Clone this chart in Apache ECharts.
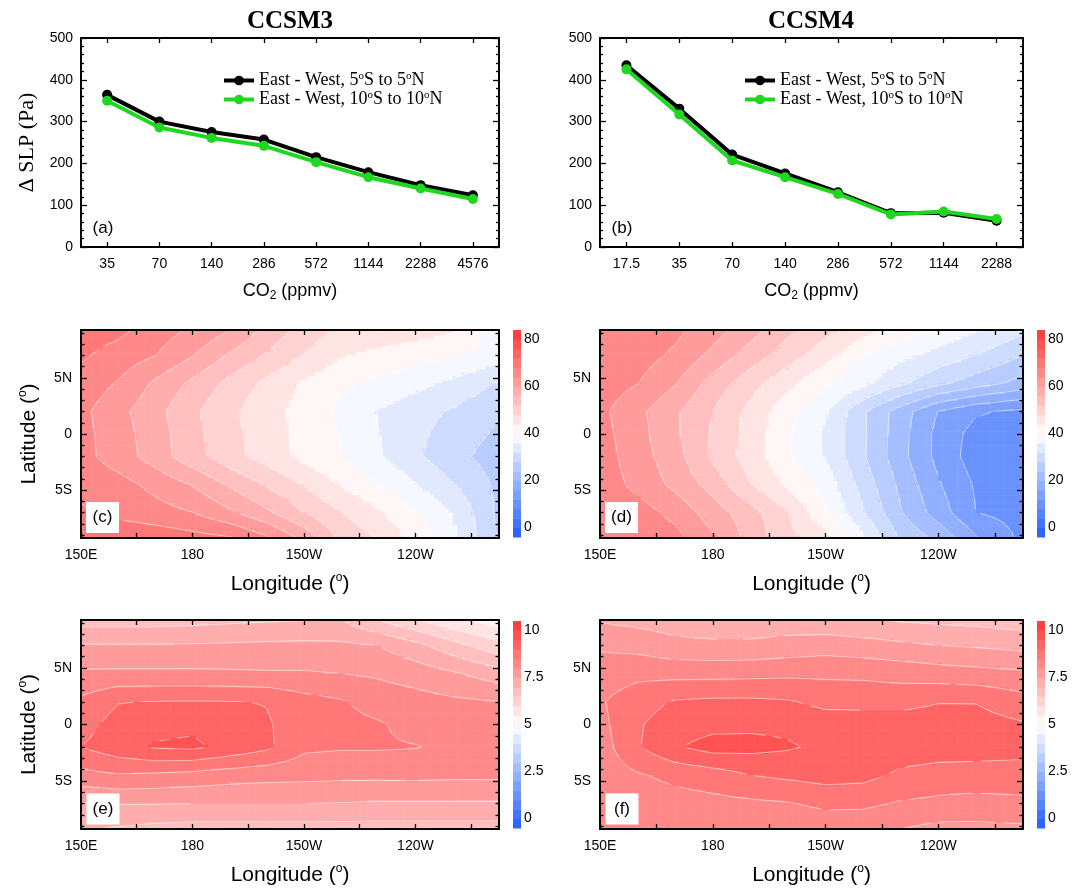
<!DOCTYPE html>
<html>
<head>
<meta charset="utf-8">
<script src="https://cdn.jsdelivr.net/npm/echarts@6/dist/echarts.min.js"></script>
<style>
  html, body { margin: 0; padding: 0; background: #fff; }
  #main { width: 1074px; height: 888px; }
</style>
</head>
<body>
<div id="main"></div>
<script>
// ---- line panels (a) CCSM3, (b) CCSM4 ----
const co2Ccsm3 = ['35', '70', '140', '286', '572', '1144', '2288', '4576']
const co2Ccsm4 = ['17.5', '35', '70', '140', '286', '572', '1144', '2288']
const slp5Ccsm3 = [364, 300, 275, 257, 215, 179, 148, 124]
const slp10Ccsm3 = [350, 286, 261, 242, 203, 167, 140, 115]
const slp5Ccsm4 = [435, 331, 221, 176, 131, 81, 82, 63]
const slp10Ccsm4 = [425, 317, 207, 167, 127, 78, 85, 67]

// ---- contour panels: grid points (lon east, lat north) ----
const LON = [150, 160, 170, 180, 190, 200, 210, 220, 230, 240, 250, 262.5]
const LAT = [9.25, 7, 4.5, 2, 0, -2, -4.5, -7, -9.25]

// (c) CCSM3, rows follow LAT
const fieldC = [
  [70, 69, 66.2, 63.3, 60.2, 54.8, 50.5, 47, 46.5, 46, 44.5, 38.5],
  [68.6, 66.4, 64.1, 60.2, 55.5, 51.6, 47.7, 44.4, 43, 41.7, 40.5, 38],
  [66.5, 63.7, 59.3, 55.1, 50.8, 47, 43.5, 40.8, 39.2, 37.2, 35.1, 31.5],
  [65, 61.3, 57.3, 52.8, 48.8, 45.6, 42.5, 39.2, 35.8, 33.7, 31.5, 28.5],
  [65.3, 61.8, 57.9, 53.3, 49.3, 45.9, 42.8, 39.7, 36.1, 33, 30.3, 27.3],
  [65.4, 62, 58.2, 53.5, 49.6, 46.1, 42.9, 40, 36.5, 32.7, 29.3, 26],
  [67, 65.6, 62.8, 59.8, 55.5, 51.6, 47.6, 43.7, 40.1, 36.2, 32.3, 27],
  [68.5, 67, 65.6, 64.1, 60.8, 56.8, 52, 48.1, 44.5, 40.2, 35.8, 27],
  [71, 71, 70.5, 69.5, 68.5, 64.8, 58.9, 51, 47.7, 42.6, 37.1, 27.5]
]
// (d) CCSM4
const fieldD = [
  [66.5, 66, 65, 61.7, 57.7, 52.9, 49.2, 45.5, 42.2, 39.2, 36.4, 33],
  [66.5, 65.8, 63.3, 59, 54.2, 50, 45.6, 40.3, 37.2, 34.5, 32, 28],
  [66, 64.1, 60.3, 54.3, 49.6, 45, 40.6, 37, 32.7, 28.9, 25.8, 22.5],
  [65, 61.1, 56.6, 52, 46.8, 41.4, 36.5, 28.5, 22, 15.8, 12.5, 11],
  [65.5, 61.5, 56.7, 51.5, 46.5, 40.6, 35.4, 28.7, 21.5, 14.8, 10.5, 10.5],
  [66, 61.8, 57.7, 51.1, 46.2, 40.4, 35.6, 28.5, 21.3, 14.8, 10, 9],
  [66.5, 62.8, 59, 54.5, 48.2, 43.3, 38.4, 30.3, 23, 16.4, 11.5, 10.5],
  [67, 66, 62.8, 58, 53.7, 48.2, 40.6, 32.4, 24.3, 18.1, 12, 10.5],
  [67, 66.5, 65.4, 60.6, 54.6, 49.2, 45.2, 36.6, 27.3, 23, 16.4, 11]
]
// (e) CCSM3
const fieldE = [
  [6.8, 6.8, 6.8, 6.85, 6.9, 6.95, 6.98, 7.0, 6.5, 6.05, 5.6, 5.25],
  [7.54, 7.54, 7.54, 7.55, 7.57, 7.6, 7.62, 7.6, 7.5, 7.16, 6.7, 6.15],
  [8.09, 8.1, 8.1, 8.1, 8.08, 8.05, 8.05, 8.0, 7.93, 7.78, 7.57, 7.24],
  [8.6, 8.98, 9.02, 9.03, 9.02, 8.98, 8.7, 8.55, 8.3, 8.2, 8.1, 8.02],
  [8.8, 9.2, 9.35, 9.4, 9.25, 9.05, 8.75, 8.65, 8.55, 8.35, 8.3, 8.25],
  [9.0, 9.3, 9.55, 9.6, 9.35, 9.1, 8.6, 8.55, 8.55, 8.52, 8.4, 8.35],
  [8.34, 8.46, 8.41, 8.33, 8.23, 8.17, 8.15, 8.12, 8.12, 8.13, 8.1, 8.1],
  [7.47, 7.52, 7.52, 7.5, 7.5, 7.5, 7.5, 7.48, 7.45, 7.45, 7.45, 7.45],
  [7.05, 6.95, 6.85, 6.8, 6.8, 6.8, 6.8, 6.8, 6.8, 6.8, 6.8, 6.8]
]
// (f) CCSM4
const fieldF = [
  [7.45, 7.35, 7.25, 7.2, 7.2, 7.2, 7.15, 7.05, 6.95, 6.9, 6.85, 6.75],
  [7.93, 7.84, 7.65, 7.6, 7.6, 7.7, 7.77, 7.7, 7.6, 7.5, 7.45, 7.35],
  [8.24, 8.37, 8.35, 8.35, 8.37, 8.4, 8.41, 8.39, 8.32, 8.24, 8.17, 8.1],
  [8.45, 8.8, 9.05, 9.1, 9.1, 9.05, 8.85, 8.85, 8.85, 8.98, 8.98, 8.7],
  [8.35, 8.95, 9.25, 9.35, 9.4, 9.4, 9.3, 9.25, 9.25, 9.25, 9.2, 9.05],
  [8.25, 8.95, 9.45, 9.7, 9.65, 9.55, 9.4, 9.35, 9.3, 9.3, 9.25, 9.2],
  [8.2, 8.45, 8.62, 8.76, 9.0, 9.1, 9.2, 9.15, 8.9, 8.75, 8.75, 8.75],
  [8.2, 8.25, 8.3, 8.35, 8.4, 8.47, 8.6, 8.6, 8.45, 8.4, 8.35, 8.4],
  [8.1, 8.1, 8.1, 8.1, 8.1, 8.15, 8.2, 8.15, 8.0, 7.85, 7.85, 7.9]
]

// contour levels (colour bar bands)
const levelsUpper = [-4, 0, 4, 8, 12, 16, 20, 24, 28, 32, 36, 40, 44, 48, 52, 56, 60, 64, 68, 72, 76, 80, 84]
const levelsLower = [-0.5, 0, 0.5, 1, 1.5, 2, 2.5, 3, 3.5, 4, 4.5, 5, 5.5, 6, 6.5, 7, 7.5, 8, 8.5, 9, 9.5, 10, 10.5]
const cbarUpperTicks = [0, 20, 40, 60, 80]
const cbarLowerTicks = [0, 2.5, 5, 7.5, 10]

// tick positions
const lonTicks = [150, 165, 180, 195, 210, 225, 240, 255]
const lonLabels = [150, 180, 210, 240]
const latMajor = [-5, 0, 5]
const latMinor = [-9, -8, -7, -6, -4, -3, -2, -1, 1, 2, 3, 4, 6, 7, 8, 9]

const SANS = 'Liberation Sans'
const SERIF = 'Liberation Serif'
const GREEN = '#1fd71f'

// blue - white - red, 22 bands
function bandColor(k) {
  if (k >= 11) {
    const f = (k - 10.5) / 11
    const g = Math.round(255 - f * 200)
    return 'rgb(255,' + g + ',' + g + ')'
  }
  const f = (10.5 - k) / 11
  return 'rgb(' + Math.round(255 - f * 220) + ',' + Math.round(255 - f * 160) + ',255)'
}

function bandIndex(v, levels) {
  const step = levels[1] - levels[0]
  let k = Math.floor((v - levels[0]) / step)
  return Math.max(0, Math.min(levels.length - 2, k))
}

// marching squares inside one sub cell, white contour lines
function addContours(children, x0, x1, y0, y1, q, levels) {
  for (let m = 1; m < levels.length - 1; m++) {
    const L = levels[m]
    const pts = []
    if ((q[0] - L) * (q[1] - L) < 0) {
      const t = (L - q[0]) / (q[1] - q[0])
      pts.push([x0 + (x1 - x0) * t, y0])
    }
    if ((q[1] - L) * (q[2] - L) < 0) {
      const t = (L - q[1]) / (q[2] - q[1])
      pts.push([x1, y0 + (y1 - y0) * t])
    }
    if ((q[2] - L) * (q[3] - L) < 0) {
      const t = (L - q[2]) / (q[3] - q[2])
      pts.push([x1 + (x0 - x1) * t, y1])
    }
    if ((q[3] - L) * (q[0] - L) < 0) {
      const t = (L - q[3]) / (q[0] - q[3])
      pts.push([x0, y1 + (y0 - y1) * t])
    }
    for (let p = 0; p + 1 < pts.length; p += 2) {
      children.push({
        type: 'line',
        shape: { x1: pts[p][0], y1: pts[p][1], x2: pts[p + 1][0], y2: pts[p + 1][1] },
        style: { stroke: 'rgba(255,255,255,0.7)', lineWidth: 0.8 }
      })
    }
  }
}

// filled contour look: each grid cell is split into small pieces
function fieldRenderer(field, levels) {
  return function (params, api) {
    const i = api.value(2)
    const j = api.value(3)
    const NX = 10
    const NY = 8
    const v00 = field[j][i]
    const v01 = field[j][i + 1]
    const v10 = field[j + 1][i]
    const v11 = field[j + 1][i + 1]
    const xs = []
    const ys = []
    const vals = []
    for (let b = 0; b <= NX; b++) {
      xs.push(api.coord([LON[i] + ((LON[i + 1] - LON[i]) * b) / NX, LAT[j]])[0])
    }
    for (let a = 0; a <= NY; a++) {
      ys.push(api.coord([LON[i], LAT[j] + ((LAT[j + 1] - LAT[j]) * a) / NY])[1])
    }
    for (let a = 0; a <= NY; a++) {
      const t = a / NY
      const row = []
      for (let b = 0; b <= NX; b++) {
        const s = b / NX
        row.push((1 - t) * ((1 - s) * v00 + s * v01) + t * ((1 - s) * v10 + s * v11))
      }
      vals.push(row)
    }
    const children = []
    for (let a = 0; a < NY; a++) {
      for (let b = 0; b < NX; b++) {
        const v = (vals[a][b] + vals[a][b + 1] + vals[a + 1][b] + vals[a + 1][b + 1]) / 4
        children.push({
          type: 'rect',
          shape: { x: xs[b], y: ys[a], width: xs[b + 1] - xs[b] + 0.6, height: ys[a + 1] - ys[a] + 0.6 },
          style: { fill: bandColor(bandIndex(v, levels)) }
        })
      }
    }
    for (let a = 0; a < NY; a++) {
      for (let b = 0; b < NX; b++) {
        addContours(children, xs[b], xs[b + 1], ys[a], ys[a + 1],
          [vals[a][b], vals[a][b + 1], vals[a + 1][b + 1], vals[a + 1][b]], levels)
      }
    }
    return { type: 'group', children: children }
  }
}

function colorbarRenderer(levels) {
  return function (params, api) {
    const k = api.value(1)
    const p0 = api.coord([0, levels[k]])
    const p1 = api.coord([1, levels[k + 1]])
    return {
      type: 'rect',
      shape: { x: p0[0], y: p1[1], width: p1[0] - p0[0], height: p0[1] - p1[1] + 0.5 },
      style: { fill: bandColor(k) }
    }
  }
}

function lonName(v) {
  if (v < 180) return v + 'E'
  if (v === 180) return '180'
  return 360 - v + 'W'
}
function latName(v) {
  if (v > 0) return v + 'N'
  if (v < 0) return -v + 'S'
  return '0'
}

const frame = { show: true, onZero: false, lineStyle: { color: '#000', width: 2 } }
const tickStyle = { color: '#000', width: 1.3 }
const labelStyle = { color: '#000', fontFamily: SANS, fontSize: 14 }
const supRich = {
  sup: { fontSize: 12, lineHeight: 12, verticalAlign: 'top', fontFamily: SANS, color: '#000' },
  sub: { fontSize: 12, lineHeight: 10, verticalAlign: 'bottom', fontFamily: SANS, color: '#000' }
}

const grids = []
const xAxes = []
const yAxes = []
const series = []

// ---------- line panels ----------
function linePanel(box, cats, s5, s10, yName) {
  const g = grids.length
  grids.push(Object.assign({ containLabel: false }, box))
  const xi = xAxes.length
  xAxes.push({
    type: 'category', gridIndex: g, data: cats, position: 'bottom', z: 10,
    axisLine: frame,
    axisTick: { show: true, inside: true, alignWithLabel: true, length: 5, lineStyle: tickStyle },
    axisLabel: Object.assign({ margin: 10, interval: 0 }, labelStyle),
    name: 'CO{sub|2} (ppmv)', nameLocation: 'middle', nameGap: 33,
    nameTextStyle: { color: '#000', fontFamily: SANS, fontSize: 18, lineHeight: 22, rich: supRich }
  })
  xAxes.push({
    type: 'category', gridIndex: g, data: cats, position: 'top', z: 10,
    axisLine: frame,
    axisTick: { show: true, inside: true, alignWithLabel: true, length: 5, lineStyle: tickStyle },
    axisLabel: { show: false }
  })
  const yi = yAxes.length
  yAxes.push({
    type: 'value', gridIndex: g, min: 0, max: 500, interval: 100, position: 'left', z: 10,
    axisLine: frame, splitLine: { show: false },
    axisTick: { show: true, inside: true, length: 6, lineStyle: tickStyle },
    minorTick: { show: true, splitNumber: 5, length: 3, lineStyle: tickStyle },
    axisLabel: Object.assign({ margin: 8 }, labelStyle),
    name: yName, nameLocation: 'middle', nameGap: 43,
    nameTextStyle: { color: '#000', fontFamily: SERIF, fontSize: 22 }
  })
  yAxes.push({
    type: 'value', gridIndex: g, min: 0, max: 500, interval: 100, position: 'right', z: 10,
    axisLine: frame, splitLine: { show: false },
    axisTick: { show: true, inside: true, length: 6, lineStyle: tickStyle },
    minorTick: { show: true, splitNumber: 5, length: 3, lineStyle: tickStyle },
    axisLabel: { show: false }
  })
  series.push({
    type: 'line', name: 'East - West, 5S to 5N', xAxisIndex: xi, yAxisIndex: yi, data: s5,
    symbol: 'circle', symbolSize: 10, color: '#000',
    lineStyle: { width: 4, color: '#000' }, itemStyle: { color: '#000' }, z: 3
  })
  series.push({
    type: 'line', name: 'East - West, 10S to 10N', xAxisIndex: xi, yAxisIndex: yi, data: s10,
    symbol: 'circle', symbolSize: 10, color: GREEN,
    lineStyle: { width: 4, color: GREEN }, itemStyle: { color: GREEN }, z: 4
  })
}

// ---------- contour panels ----------
function fieldPanel(box, field, levels, withLatName) {
  const g = grids.length
  grids.push(Object.assign({ containLabel: false }, box))
  const common = { type: 'value', gridIndex: g, min: 150, max: 262.5, splitLine: { show: false }, z: 10 }
  const xi = xAxes.length
  xAxes.push(Object.assign({}, common, {
    position: 'bottom', axisLine: frame,
    axisTick: { show: true, inside: true, length: 5, customValues: lonTicks, lineStyle: tickStyle },
    axisLabel: Object.assign({ margin: 10, customValues: lonLabels, formatter: lonName }, labelStyle),
    name: 'Longitude ({sup|o})', nameLocation: 'middle', nameGap: 34,
    nameTextStyle: { color: '#000', fontFamily: SANS, fontSize: 21, lineHeight: 24, rich: supRich }
  }))
  xAxes.push(Object.assign({}, common, {
    position: 'top', axisLine: frame,
    axisTick: { show: true, inside: true, length: 5, customValues: lonTicks, lineStyle: tickStyle },
    axisLabel: { show: false }
  }))
  const yc = { type: 'value', gridIndex: g, min: -9.25, max: 9.25, splitLine: { show: false }, z: 10 }
  const yi = yAxes.length
  yAxes.push(Object.assign({}, yc, {
    position: 'left', axisLine: frame,
    axisTick: { show: true, inside: true, length: 6, customValues: latMajor, lineStyle: tickStyle },
    axisLabel: Object.assign({ margin: 9, customValues: latMajor, formatter: latName }, labelStyle),
    name: withLatName ? 'Latitude ({sup|o})' : '', nameLocation: 'middle', nameGap: 40,
    nameTextStyle: { color: '#000', fontFamily: SANS, fontSize: 21, lineHeight: 24, rich: supRich }
  }))
  yAxes.push(Object.assign({}, yc, {
    position: 'left', axisLine: { show: false, onZero: false },
    axisTick: { show: true, inside: true, length: 3.5, customValues: latMinor, lineStyle: tickStyle },
    axisLabel: { show: false }
  }))
  yAxes.push(Object.assign({}, yc, {
    position: 'right', axisLine: frame,
    axisTick: { show: true, inside: true, length: 6, customValues: latMajor, lineStyle: tickStyle },
    axisLabel: { show: false }
  }))
  yAxes.push(Object.assign({}, yc, {
    position: 'right', axisLine: { show: false, onZero: false },
    axisTick: { show: true, inside: true, length: 3.5, customValues: latMinor, lineStyle: tickStyle },
    axisLabel: { show: false }
  }))
  const cells = []
  for (let j = 0; j < LAT.length - 1; j++) {
    for (let i = 0; i < LON.length - 1; i++) {
      cells.push([(LON[i] + LON[i + 1]) / 2, (LAT[j] + LAT[j + 1]) / 2, i, j])
    }
  }
  series.push({
    type: 'custom', xAxisIndex: xi, yAxisIndex: yi, data: cells, silent: true,
    encode: { x: 0, y: 1 }, renderItem: fieldRenderer(field, levels), z: 2, animation: false
  })
}

function colorbar(box, levels, ticks) {
  const g = grids.length
  grids.push(Object.assign({ containLabel: false }, box))
  const xi = xAxes.length
  xAxes.push({ type: 'value', gridIndex: g, min: 0, max: 1, show: false })
  const yi = yAxes.length
  yAxes.push({
    type: 'value', gridIndex: g, min: levels[0], max: levels[levels.length - 1], position: 'right',
    splitLine: { show: false }, axisLine: { show: false, onZero: false }, axisTick: { show: false },
    axisLabel: Object.assign({ margin: 3, customValues: ticks }, labelStyle)
  })
  const bands = []
  for (let k = 0; k < levels.length - 1; k++) bands.push([0.5, k])
  series.push({
    type: 'custom', xAxisIndex: xi, yAxisIndex: yi, data: bands, silent: true,
    encode: { x: 0 }, renderItem: colorbarRenderer(levels), animation: false
  })
}

linePanel({ left: 81, top: 38, width: 418, height: 209 }, co2Ccsm3, slp5Ccsm3, slp10Ccsm3, 'Δ SLP (Pa)')
linePanel({ left: 600, top: 38, width: 423, height: 209 }, co2Ccsm4, slp5Ccsm4, slp10Ccsm4, '')
fieldPanel({ left: 81, top: 330, width: 418, height: 208 }, fieldC, levelsUpper, true)
fieldPanel({ left: 600, top: 330, width: 423, height: 208 }, fieldD, levelsUpper, false)
fieldPanel({ left: 81, top: 620, width: 418, height: 209 }, fieldE, levelsLower, true)
fieldPanel({ left: 600, top: 620, width: 423, height: 209 }, fieldF, levelsLower, false)
colorbar({ left: 513, top: 330, width: 8, height: 207 }, levelsUpper, cbarUpperTicks)
colorbar({ left: 1037, top: 330, width: 8, height: 207 }, levelsUpper, cbarUpperTicks)
colorbar({ left: 513, top: 621, width: 8, height: 207 }, levelsLower, cbarLowerTicks)
colorbar({ left: 1037, top: 621, width: 8, height: 207 }, levelsLower, cbarLowerTicks)

function legendFmt(name) {
  return name.indexOf('10') >= 0
    ? 'East - West, 10{sup|o}S to 10{sup|o}N'
    : 'East - West, 5{sup|o}S to 5{sup|o}N'
}
function legendAt(left) {
  return {
    left: left, top: 66, orient: 'vertical', itemWidth: 30, itemHeight: 12, itemGap: 0,
    selectedMode: false, data: ['East - West, 5S to 5N', 'East - West, 10S to 10N'],
    formatter: legendFmt,
    lineStyle: { width: 'inherit' },
    textStyle: {
      color: '#000', fontFamily: SERIF, fontSize: 18, lineHeight: 19,
      rich: { sup: { fontFamily: SERIF, fontSize: 11, lineHeight: 10, verticalAlign: 'top', color: '#000' } }
    }
  }
}

function panelTag(x, y, txt, box) {
  const els = []
  if (box) {
    els.push({ type: 'rect', z: 100, shape: { x: x - 16.5, y: y - 15.5, width: 33, height: 31 }, style: { fill: '#fff' } })
  }
  els.push({
    type: 'text', z: 101, x: x, y: y,
    style: { text: txt, fill: '#000', font: '17px "' + SANS + '"', textAlign: 'center', textVerticalAlign: 'middle' }
  })
  return els
}

const graphics = [
  { type: 'text', x: 290, y: 22, style: { text: 'CCSM3', fill: '#000', font: 'bold 25px "' + SERIF + '"', textAlign: 'center', textVerticalAlign: 'middle' } },
  { type: 'text', x: 811, y: 22, style: { text: 'CCSM4', fill: '#000', font: 'bold 25px "' + SERIF + '"', textAlign: 'center', textVerticalAlign: 'middle' } }
].concat(
  panelTag(103, 228, '(a)', false),
  panelTag(622, 228, '(b)', false),
  panelTag(102.5, 517.5, '(c)', true),
  panelTag(621.5, 517.5, '(d)', true),
  panelTag(103, 809, '(e)', true),
  panelTag(622, 809, '(f)', true)
)

const chart = echarts.init(document.getElementById('main'), null, { renderer: 'canvas' })
chart.setOption({
  backgroundColor: '#fff',
  animation: false,
  grid: grids,
  xAxis: xAxes,
  yAxis: yAxes,
  legend: [legendAt(217), legendAt(738)],
  series: series,
  graphic: graphics
})
</script>
</body>
</html>
